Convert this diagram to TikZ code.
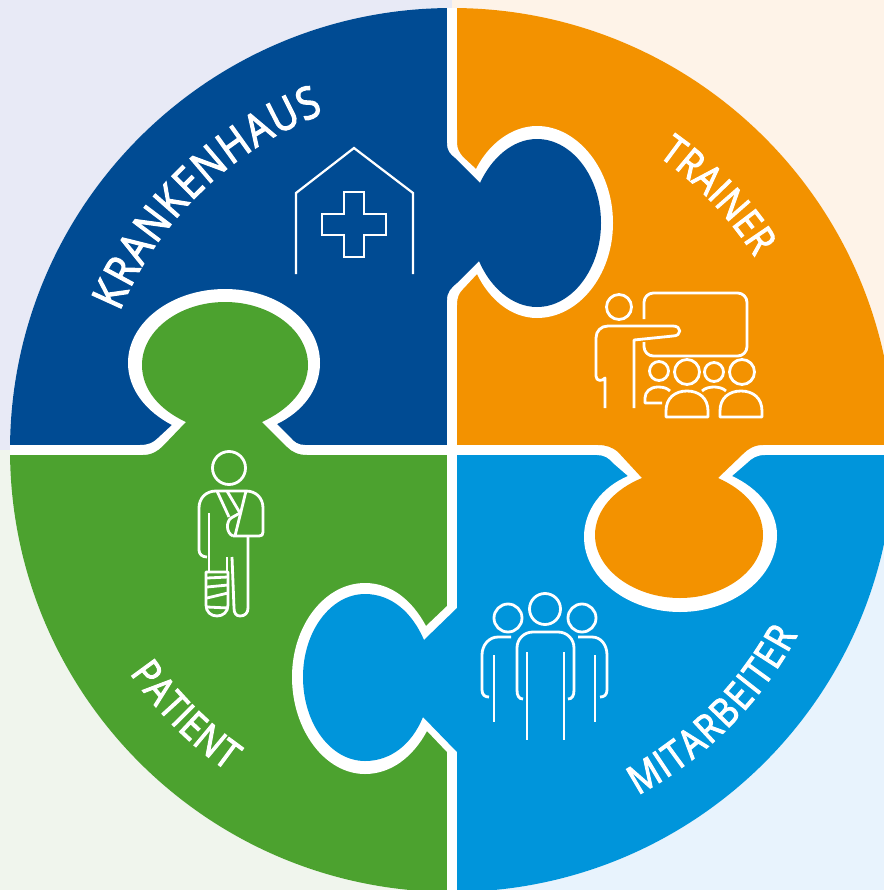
\documentclass[tikz,border=0pt]{standalone}
\usepackage{fontspec}
\setmainfont{Open Sans}
\newfontfamily\kapfam[FakeStretch=0.86,FakeBold=2.6]{Open Sans}
\usetikzlibrary{decorations.text}
\definecolor{bluepiece}{HTML}{004B93}
\definecolor{orangepiece}{HTML}{F39200}
\definecolor{greenpiece}{HTML}{4CA22F}
\definecolor{skypiece}{HTML}{0095DB}
\newcommand{\kapfont}{\kapfam\color{white}\fontsize{38}{38}\selectfont}
\newcommand{\kapfontsmall}{\kapfam\color{white}\fontsize{34}{34}\selectfont}
\tikzset{
  iconline/.style={draw=white, line width=2.4pt, line join=round},
  houseline/.style={draw=white, line width=1.9pt, line join=miter},
  gapfill/.style={fill=white},
  kaptext/.style={decorate, decoration={text along path, text align=fit to path, text={#1}}}
}
\begin{document}
\begin{tikzpicture}[x=0.03cm, y=-0.03cm]
            \useasboundingbox (0,0) rectangle (884,890);
            \clip (0,0) rectangle (884,890);
            \coordinate (mid) at (452,450);
            \fill[fill={rgb,255:red,232;green,234;blue,246}] (0,0) rectangle (mid);
            \fill[fill={rgb,255:red,254;green,243;blue,232}] (884,0) rectangle (mid);
            \fill[fill={rgb,255:red,240;green,245;blue,237}] (0,890) rectangle (mid);
            \fill[fill={rgb,255:red,232;green,243;blue,253}] (884,890) rectangle (mid);
            \begin{scope}
              \clip (mid) circle[radius=442];
              \fill[white] (0,0) rectangle (884,890);
              \foreach \piece/\xa/\ya/\xb/\yb in {bluepiece/0/0/447/445, orangepiece/457/0/884/445, greenpiece/0/455/447/890, skypiece/457/455/884/890} {
                \fill[\piece] (\xa,\ya) rectangle (\xb,\yb);
              }
              % blue knob
              \fill[gapfill] (452,130) -- (457,130) -- (457,142) .. controls (457,149) and (459,152) .. (463,157) -- (476,169) .. controls (488,145) and (511,126) .. (537,126) .. controls (578,126) and (613,170) .. (613,223) .. controls (613,276) and (578,318) .. (537,318) .. controls (511,318) and (489,299) .. (477,274) -- (463,289) .. controls (459,293) and (457,297) .. (457,305) -- (452,305) -- cycle;
              \fill[bluepiece] (447,143) .. controls (447,151) and (450,154) .. (455,158) -- (480,183) .. controls (491,159) and (512,139) .. (537,139) .. controls (572,139) and (601,177) .. (601,223) .. controls (601,269) and (572,307) .. (537,307) .. controls (512,307) and (490,287) .. (479,261) -- (457,283) .. controls (451,288) and (447,292) .. (447,300) -- cycle;
              % orange knob
              \fill[gapfill] (597,450) -- (597,455) .. controls (604,455) and (609,458) .. (613,463) -- (628,476) .. controls (602,487) and (584,510) .. (584,537) .. controls (584,578) and (628,612) .. (680,612) .. controls (732,612) and (777,578) .. (777,535) .. controls (777,510) and (758,488) .. (732,476) -- (747,463) .. controls (752,458) and (757,455) .. (765,455) -- (765,450) -- cycle;
              \fill[orangepiece] (598,445) .. controls (606,445) and (612,447) .. (618,452) -- (642,478) .. controls (615,489) and (595,510) .. (595,535) .. controls (595,570) and (635,598) .. (680,598) .. controls (725,598) and (763,570) .. (763,535) .. controls (763,510) and (745,490) .. (718,478) -- (743,454) .. controls (748,449) and (754,445) .. (763,445) -- cycle;
              % green knob
              \fill[gapfill] (140,450) -- (140,445) .. controls (148,445) and (153,443) .. (158,438) -- (172,425) .. controls (147,412) and (128,390) .. (128,363) .. controls (128,322) and (172,289) .. (225,289) .. controls (278,289) and (320,322) .. (320,363) .. controls (320,390) and (302,412) .. (277,424) -- (290,437) .. controls (294,442) and (298,445) .. (305,445) -- (305,450) -- cycle;
              \fill[greenpiece] (143,455) .. controls (152,455) and (158,451) .. (163,446) -- (186,422) .. controls (160,410) and (142,390) .. (142,365) .. controls (142,330) and (180,302) .. (225,302) .. controls (270,302) and (308,330) .. (308,365) .. controls (308,390) and (288,410) .. (262,422) -- (287,447) .. controls (292,452) and (298,455) .. (307,455) -- cycle;
              % sky knob
              \fill[gapfill] (452,606) -- (447,606) -- (426,626) .. controls (412,600) and (391,583) .. (365,583) .. controls (325,583) and (292,625) .. (292,677) .. controls (292,730) and (325,774) .. (365,774) .. controls (391,774) and (413,757) .. (427,731) -- (447,752) -- (452,752) -- cycle;
              \fill[skypiece] (457,608) -- (424,640) .. controls (412,612) and (391,594) .. (365,594) .. controls (331,594) and (303,631) .. (303,677) .. controls (303,724) and (331,761) .. (365,761) .. controls (391,761) and (412,744) .. (423,717) -- (457,752) -- cycle;
            \end{scope}
            % hospital
            \draw[houseline] (296,274) -- (296,193) -- (354,148) -- (413,193) -- (413,274);
            \draw[houseline] (344,192) -- (364,192) -- (364,214) -- (386,214) -- (386,235) -- (364,235) -- (364,257) -- (344,257) -- (344,235) -- (322,235) -- (322,214) -- (344,214) -- cycle;
            % trainer
            \draw[iconline, rounded corners=8pt] (644,319) -- (644,293) -- (747,293) -- (747,356) -- (644,356) -- (644,342);
            \draw[iconline] (605,408) -- (605,378) .. controls (603,381) and (596,382) .. (596,376) -- (596,338) .. controls (596,331) and (601,326) .. (608,326) -- (673,326) .. controls (682,326) and (682,336) .. (673,336) -- (634,340) -- (634,408);
            \foreach \hx/\hy/\hr in {619/307/12.5, 659/371/9.5, 687/372/12.5, 714/372/9.5, 742/372/12.5} {
              \draw[iconline] (\hx,\hy) circle[radius=\hr];
            }
            \foreach \bx in {666, 720} {
              \draw[iconline] (\bx,417) -- (\bx,411) .. controls (\bx,398) and (\bx+9,391) .. (\bx+21,391) .. controls (\bx+33,391) and (\bx+42,398) .. (\bx+42,411) -- (\bx+42,417) -- cycle;
            }
            \draw[iconline] (670,391) .. controls (667,388) and (663,387) .. (658,387) .. controls (650,387) and (645,392) .. (645,398) -- (645,403) -- (662,403);
            \draw[iconline] (702,391) .. controls (705,388) and (710,387) .. (714,387) .. controls (718,387) and (723,388) .. (726,391);
            % patient
            \draw[iconline] (229,468) circle[radius=16.5];
            \draw[iconline] (207,557) .. controls (202,557) and (199,554) .. (199,550) -- (199,508) .. controls (199,498) and (206,491) .. (216,491) -- (246,491) .. controls (256,491) and (263,498) .. (263,508) -- (263,532) .. controls (263,535) and (262,536) .. (259,536) -- (233,536);
            \draw[iconline] (209,513) -- (209,572);
            \draw[iconline] (217,491) -- (229,517);
            \draw[iconline] (227,491) -- (240,513);
            \draw[iconline] (246,491) -- (235,536);
            \draw[iconline] (240,513) -- (231,518) .. controls (226,522) and (226,533) .. (233,536);
            \draw[iconline] (248,536) -- (248,608) .. controls (248,613) and (245,616) .. (240,616) .. controls (236,616) and (234,613) .. (234,608) -- (232,557);
            \draw[iconline] (227,557) -- (227,572);
            \draw[iconline] (206,572) -- (206,605) .. controls (206,612) and (211,616) .. (217,616) .. controls (223,616) and (228,612) .. (228,605) -- (228,572) -- cycle;
            \foreach \ya/\yb in {578/577, 587/585, 598/593, 607/608} {
              \draw[iconline] (207,\ya) -- (228,\yb);
            }
            % staff
            \foreach \hx/\hy/\hr in {545/609/15.5, 508/618/14, 582/618/14} {
              \draw[iconline] (\hx,\hy) circle[radius=\hr];
            }
            \draw[iconline] (523,699) .. controls (519,699) and (517,696) .. (517,690) -- (517,648) .. controls (517,639) and (524,632) .. (533,632) -- (558,632) .. controls (567,632) and (574,639) .. (574,648) -- (574,690) .. controls (574,696) and (572,699) .. (568,699);
            \draw[iconline] (527,652) -- (527,740);
            \draw[iconline] (564,652) -- (564,740);
            \draw[iconline] (511,637) -- (498,637) .. controls (489,637) and (482,645) .. (482,655) -- (482,690) .. controls (482,695) and (485,697) .. (489,697);
            \draw[iconline] (494,655) -- (494,722);
            \draw[iconline] (578,637) -- (592,637) .. controls (601,637) and (607,645) .. (607,655) -- (607,690) .. controls (607,695) and (604,697) .. (600,697);
            \draw[iconline] (595,655) -- (595,722);
            % labels
            \path[kaptext={|\kapfont|KRANKENHAUS}] (mid) ++(157.4:10.8cm) arc[start angle=157.4, end angle=110.9, radius=10.8cm];
            \path[kaptext={|\kapfontsmall|TRAINER}] (mid) ++(55:10.77cm) arc[start angle=55, end angle=32.5, radius=10.77cm];
            \path[kaptext={|\kapfontsmall|MITARBEITER}] (mid) ++(-61.7:11.76cm) arc[start angle=-61.7, end angle=-28.2, radius=11.76cm];
            \path[kaptext={|\kapfontsmall|PATIENT}] (mid) ++(214.7:11.76cm) arc[start angle=214.7, end angle=235, radius=11.76cm];
\end{tikzpicture}
\end{document}
